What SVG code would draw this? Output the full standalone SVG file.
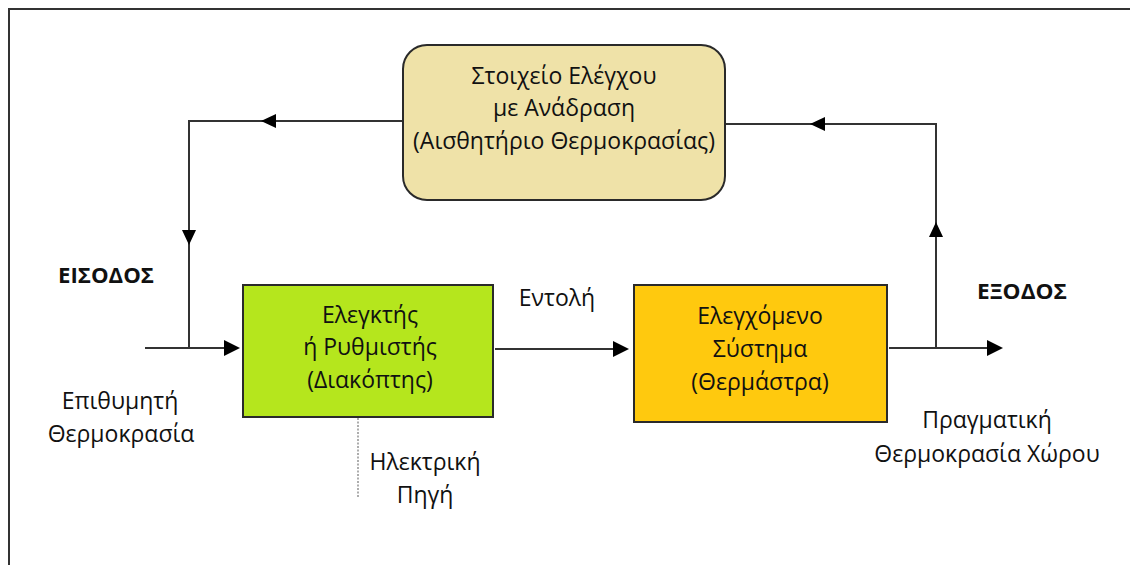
<svg xmlns="http://www.w3.org/2000/svg" width="1130" height="565" viewBox="0 0 1130 565">
  <style>
    .lbl { font-family: "Open Sans", "Noto Sans", "DejaVu Sans", sans-serif; font-size: 23px; fill: #111111; text-anchor: middle; }
    .bold { font-weight: bold; font-size: 22px; }
    .box { stroke: #2a2a2a; stroke-width: 2; }
    .wire { fill: none; stroke: #333333; stroke-width: 2; }
  </style>

  <rect width="1130" height="565" fill="#ffffff"/>
  <!-- page frame (top and left edges) -->
  <path d="M9,565 V9 H1130" fill="none" stroke="#333" stroke-width="2"/>

  <!-- connectors -->
  <g id="connectors">
    <!-- feedback path, left half -->
    <path class="wire" d="M403,121 H189 V348"/>
    <path d="M261,121 L276,114 L276,128 z" fill="#000"/>
    <path d="M189,245 L182,230 L196,230 z" fill="#000"/>
    <!-- feedback path, right half -->
    <path class="wire" d="M936,348 V124 H725"/>
    <path d="M936,222 L929,237 L943,237 z" fill="#000"/>
    <path d="M810,124 L825,117 L825,131 z" fill="#000"/>
    <!-- input -->
    <path class="wire" d="M145,348 H225"/>
    <path d="M240,348 L224,340 L224,356 z" fill="#000"/>
    <!-- command -->
    <path class="wire" d="M495,349 H614"/>
    <path d="M629,349 L613,341 L613,357 z" fill="#000"/>
    <!-- output -->
    <path class="wire" d="M889,348 H988"/>
    <path d="M1003,348 L987,340 L987,356 z" fill="#000"/>
    <!-- power supply -->
    <path d="M358,418 V497" fill="none" stroke="#777" stroke-width="1.2" stroke-dasharray="2,1.5"/>
  </g>

  <g id="sensor">
    <rect class="box" x="403" y="45" width="322" height="155" rx="24" ry="24" fill="#efe2a8"/>
    <text class="lbl" x="564" y="84">Στοιχείο Ελέγχου</text>
    <text class="lbl" x="564" y="116">με Ανάδραση</text>
    <text class="lbl" x="564" y="149">(Αισθητήριο Θερμοκρασίας)</text>
  </g>

  <g id="controller">
    <rect class="box" x="243" y="285" width="250" height="132" fill="#b5e61d"/>
    <text class="lbl" x="370" y="323">Ελεγκτής</text>
    <text class="lbl" x="370" y="355">ή Ρυθμιστής</text>
    <text class="lbl" x="370" y="388">(Διακόπτης)</text>
  </g>

  <g id="plant">
    <rect class="box" x="634" y="285" width="253" height="137" fill="#ffc90e"/>
    <text class="lbl" x="760" y="324">Ελεγχόμενο</text>
    <text class="lbl" x="760" y="357">Σύστημα</text>
    <text class="lbl" x="760" y="390">(Θερμάστρα)</text>
  </g>

  <g id="labels">
    <text class="lbl bold" x="106" y="283" textLength="96" lengthAdjust="spacingAndGlyphs">ΕΙΣΟΔΟΣ</text>
    <text class="lbl bold" x="1022" y="299" textLength="90" lengthAdjust="spacingAndGlyphs">ΕΞΟΔΟΣ</text>
    <text class="lbl" x="557" y="306">Εντολή</text>
    <text class="lbl" x="120" y="409">Επιθυμητή</text>
    <text class="lbl" x="121" y="442">Θερμοκρασία</text>
    <text class="lbl" x="425" y="470">Ηλεκτρική</text>
    <text class="lbl" x="425" y="503">Πηγή</text>
    <text class="lbl" x="987" y="428">Πραγματική</text>
    <text class="lbl" x="987" y="462">Θερμοκρασία Χώρου</text>
  </g>
</svg>
